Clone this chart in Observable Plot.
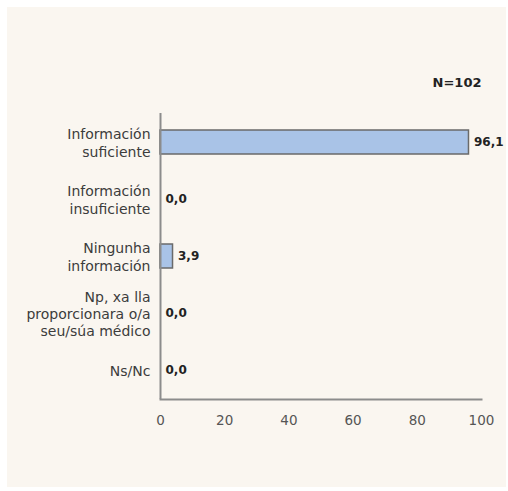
<!DOCTYPE html>
<html>
<head>
<meta charset="utf-8">
<script src="https://cdn.jsdelivr.net/npm/d3@7"></script>
<script src="https://cdn.jsdelivr.net/npm/@observablehq/plot@0.6"></script>
<style>
  html, body { margin: 0; padding: 0; background: #ffffff; }
  #chart { position: absolute; left: 7px; top: 7px; }
  #chart svg { background: #faf6f0; display: block; }
</style>
</head>
<body>
<div id="chart"></div>
<script>
const categories = [
  "Información\nsuficiente",
  "Información\ninsuficiente",
  "Ningunha\ninformación",
  "Np, xa lla\nproporcionara o/a\nseu/súa médico",
  "Ns/Nc"
];
const values = [96.1, 0.0, 3.9, 0.0, 0.0];
const xTicks = [0, 20, 40, 60, 80, 100];
const note = "N=102";

const data = categories.map((c, i) => ({cat: c, value: values[i]}));
const fmt = v => v.toFixed(1).replace(".", ",");

const chart = Plot.plot({
  width: 499,
  height: 480,
  marginLeft: 153,
  marginRight: 25,
  marginTop: 106,
  marginBottom: 88,
  style: {fontFamily: "'DejaVu Sans', Verdana, sans-serif", background: "#faf6f0"},
  x: {domain: [0, 100], ticks: xTicks, label: null},
  y: {domain: categories, paddingInner: 0.58, paddingOuter: 0.29, label: null},
  marks: [
    Plot.barX(data, {x: "value", y: "cat", fill: "#a9c3e7", stroke: "#6a6a6a", strokeWidth: 1.5}),
    Plot.ruleX([0], {stroke: "#8c8c8c", strokeWidth: 2}),
    Plot.frame({anchor: "bottom", stroke: "#8c8c8c", strokeWidth: 2}),
    Plot.axisX({ticks: xTicks, tickSize: 0, tickPadding: 16, fontSize: 13.5, fill: "#555", label: null}),
    Plot.axisY({tickSize: 0, tickPadding: 10, fontSize: 14, fill: "#3c3c3c", lineHeight: 1.22, label: null}),
    Plot.text(data, {x: "value", y: "cat", text: d => fmt(d.value), dx: 5, textAnchor: "start", fontWeight: "bold", fontSize: 12, fill: "#222"}),
    Plot.text([note], {frameAnchor: "top-right", dy: -31, textAnchor: "end", lineAnchor: "middle", fontWeight: "bold", fontSize: 13, fill: "#222"})
  ]
});
document.getElementById("chart").appendChild(chart);
</script>
</body>
</html>
